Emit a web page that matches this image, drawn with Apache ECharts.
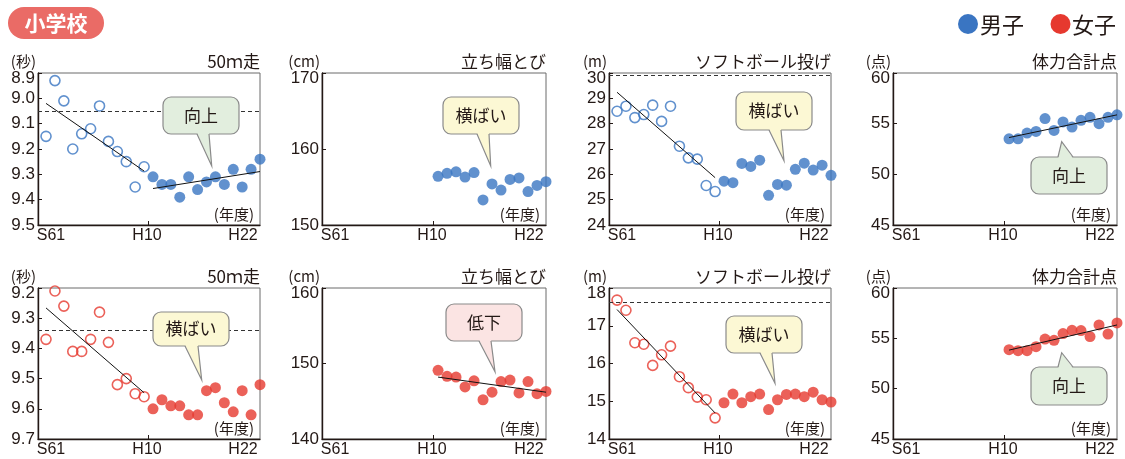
<!DOCTYPE html>
<html><head><meta charset="utf-8">
<script src="https://cdn.jsdelivr.net/npm/echarts@6/dist/echarts.min.js"></script>
<style>html,body{margin:0;padding:0;background:#fff}#c{width:1125px;height:459px}</style>
</head><body><div id="c"></div>
<script>
// ---------- data ----------
const years = ['S61','S62','S63','H1','H2','H3','H4','H5','H6','H7','H8','H9',
  'H10','H11','H12','H13','H14','H15','H16','H17','H18','H19','H20','H21','H22'];
const tickLabels = ['S61','H10','H22'];
const oldTestCount = 12; // S61..H9 open circles, H10..H22 filled

const boys50m   = [9.15,8.93,9.01,9.20,9.14,9.12,9.03,9.17,9.21,9.25,9.35,9.27,
                   9.31,9.34,9.34,9.39,9.31,9.36,9.33,9.31,9.34,9.28,9.35,9.28,9.24];
const boysJump  = [null,null,null,null,null,null,null,null,null,null,null,null,
                   156.4,156.8,157.0,156.3,156.9,153.3,155.4,154.6,156.0,156.2,154.4,155.2,155.7];
const boysBall  = [28.49,28.69,28.24,28.36,28.73,28.09,28.69,27.11,26.65,26.60,25.56,25.32,
                   25.73,25.67,26.43,26.31,26.56,25.17,25.60,25.57,26.20,26.44,26.17,26.36,25.96];
const boysTotal = [null,null,null,null,null,null,null,null,null,null,null,null,
                   53.5,53.5,54.07,54.23,55.5,54.33,55.17,54.67,55.33,55.63,55.0,55.63,55.87];
const girls50m  = [9.37,9.21,9.26,9.41,9.41,9.37,9.28,9.38,9.52,9.50,9.55,9.56,
                   9.60,9.57,9.59,9.59,9.62,9.62,9.54,9.53,9.58,9.61,9.54,9.62,9.52];
const girlsJump = [null,null,null,null,null,null,null,null,null,null,null,null,
                   149.1,148.3,148.2,146.9,147.7,145.2,146.2,147.6,147.8,146.1,147.6,146.0,146.3];
const girlsBall = [17.68,17.41,16.55,16.51,15.95,16.23,16.46,15.65,15.36,15.11,15.04,14.56,
                   14.96,15.19,14.96,15.12,15.19,14.78,15.04,15.18,15.19,15.12,15.24,15.04,14.98];
const girlsTotal= [null,null,null,null,null,null,null,null,null,null,null,null,
                   53.87,53.77,53.77,54.17,54.93,54.8,55.47,55.8,55.77,55.17,56.33,55.43,56.53];

// trend lines: [startIndex, startValue, endIndex, endValue]
const boys50mTrend   = [[0,9.02,11,9.287],[12,9.356,24,9.289]];
const boysJumpTrend  = [];
const boysBallTrend  = [[0,29.24,11,25.87]];
const boysTotalTrend = [[12,53.63,24,55.87]];
const girls50mTrend  = [[0,9.266,11,9.547]];
const girlsJumpTrend = [[12,148.2,24,146.2]];
const girlsBallTrend = [[0,17.43,11,14.69]];
const girlsTotalTrend= [[12,53.83,24,56.33]];

// reference (dashed) levels
const boys50mRef = 9.05, boysBallRef = 29.9, girls50mRef = 9.34, girlsBallRef = 17.61;

const titles = ['50ｍ走','立ち幅とび','ソフトボール投げ','体力合計点'];
const units  = ['(秒)','(cm)','(m)','(点)'];
const trendWords = ['向上','横ばい','横ばい','向上','横ばい','低下','横ばい','向上'];

// ---------- layout / style ----------
const BLUE = '#3a75c2', RED = '#e6392f', INK = '#231815';
const NUMF = '"Liberation Sans", Arial, "Noto Sans CJK JP", sans-serif';
const JPF = '"Noto Sans CJK JP", "Liberation Sans", sans-serif';
const colL = [38, 322, 609, 893], colW = [222, 224, 222, 224];
const rowT = [73, 288], rowH = [152, 151];

const panels = [
  {data: boys50m, trend: boys50mTrend, ref: boys50mRef, min: 8.9, max: 9.5, iv: 0.1, inv: true, dec: 1, color: BLUE},
  {data: boysJump, trend: boysJumpTrend, ref: null, min: 150, max: 170, iv: 10, inv: false, dec: 0, color: BLUE},
  {data: boysBall, trend: boysBallTrend, ref: boysBallRef, min: 24, max: 30, iv: 1, inv: false, dec: 0, color: BLUE},
  {data: boysTotal, trend: boysTotalTrend, ref: null, min: 45, max: 60, iv: 5, inv: false, dec: 0, color: BLUE},
  {data: girls50m, trend: girls50mTrend, ref: girls50mRef, min: 9.2, max: 9.7, iv: 0.1, inv: true, dec: 1, color: RED},
  {data: girlsJump, trend: girlsJumpTrend, ref: null, min: 140, max: 160, iv: 10, inv: false, dec: 0, color: RED},
  {data: girlsBall, trend: girlsBallTrend, ref: girlsBallRef, min: 14, max: 18, iv: 1, inv: false, dec: 0, color: RED},
  {data: girlsTotal, trend: girlsTotalTrend, ref: null, min: 45, max: 60, iv: 5, inv: false, dec: 0, color: RED}
];

// callout annotations (pixel layout)
const GREEN_F = '#e2eede', YEL_F = '#fcf8d4', PINK_F = '#fbe4e3';
const callouts = [
  {box:[163, 97, 76, 37], tip:[211.7,166], base:[197,209], fill: GREEN_F},
  {box:[443, 97, 76, 37], tip:[490.7,166], base:[477,489], fill: YEL_F},
  {box:[736, 92, 76, 38], tip:[784,160.7], base:[769,781], fill: YEL_F},
  {box:[1031,157, 76, 37], tip:[1061.7,141.7], base:[1058,1073], fill: GREEN_F},
  {box:[153, 312, 76, 34], tip:[201.7,380], base:[185,198], fill: YEL_F},
  {box:[446, 304, 76, 37], tip:[495,371.7], base:[479,491], fill: PINK_F},
  {box:[726, 316, 76, 37], tip:[775,383.3], base:[760,772], fill: YEL_F},
  {box:[1031,367, 76, 38], tip:[1061.7,352.7], base:[1058,1073], fill: GREEN_F}
];

const grids = [], xAxes = [], yAxes = [], series = [], graphics = [];

panels.forEach((p, i) => {
  const col = i % 4, row = Math.floor(i / 4);
  const L = colL[col], W = colW[col], T = rowT[row], H = rowH[row];
  grids.push({left: L, top: T, width: W, height: H, show: true, borderColor: '#6a6a6a', borderWidth: 1, containLabel: false});
  xAxes.push({
    gridIndex: i, type: 'value', min: -0.9, max: years.length - 1,
    axisLine: {show: true, onZero: false, lineStyle: {color: INK, width: 1.4}},
    axisTick: {show: true, inside: true, length: 4, customValues: [11.5], lineStyle: {color: INK}},
    splitLine: {show: false},
    axisLabel: {
      customValues: [0, 12, 24], margin: 3, color: INK, fontSize: 16, fontFamily: NUMF,
      formatter: v => {
        const lab = years[Math.round(v)];
        const k = tickLabels.indexOf(lab);
        return '{' + ['a','b','c'][k] + '|' + lab + '}';
      },
      rich: {
        a: {padding: [0,0,0,10], fontSize: 16, fontFamily: NUMF, color: INK},
        b: {padding: [0,12,0,0], fontSize: 16, fontFamily: NUMF, color: INK},
        c: {padding: [0,34,0,0], fontSize: 16, fontFamily: NUMF, color: INK}
      }
    }
  });
  const topVal = p.inv ? p.min : p.max;
  yAxes.push({
    gridIndex: i, type: 'value', min: p.min, max: p.max, interval: p.iv, inverse: p.inv,
    axisLine: {show: true, onZero: false, lineStyle: {color: INK, width: 1.4}},
    axisTick: {show: true, inside: true, length: 4, lineStyle: {color: INK}},
    splitLine: {show: false},
    axisLabel: {
      margin: 3, color: INK, fontSize: 17, fontFamily: NUMF,
      formatter: v => {
        const s = v.toFixed(p.dec);
        return Math.abs(v - topVal) < 1e-6 ? '{t|' + s + '}' : s;
      },
      rich: {t: {padding: [10,0,0,0], fontSize: 17, fontFamily: NUMF, color: INK}}
    }
  });
  const open = [], filled = [];
  p.data.forEach((v, k) => {
    if (v == null) return;
    (k < oldTestCount ? open : filled).push([k, v]);
  });
  const sc = {
    type: 'scatter', xAxisIndex: i, yAxisIndex: i, data: filled, symbolSize: 11,
    itemStyle: {color: p.color}, z: 2, silent: true
  };
  if (p.ref != null) {
    sc.markLine = {
      silent: true, symbol: ['none','none'], label: {show: false},
      lineStyle: {type: [4,3], color: '#333', width: 1},
      data: [{yAxis: p.ref}]
    };
  }
  series.push(sc);
  if (open.length) series.push({
    type: 'scatter', xAxisIndex: i, yAxisIndex: i, data: open, symbolSize: 10,
    itemStyle: {color: 'rgba(255,255,255,0)', borderColor: p.color, borderWidth: 1.6}, z: 2, silent: true
  });
  p.trend.forEach(t => series.push({
    type: 'line', xAxisIndex: i, yAxisIndex: i, data: [[t[0], t[1]], [t[2], t[3]]],
    symbol: 'none', lineStyle: {color: '#111', width: 1}, z: 3, silent: true
  }));

  // texts around panel
  graphics.push({type: 'text', x: L - 2, y: T - 12, style: {text: units[col], align: 'right', verticalAlign: 'middle', fontSize: 15, fontFamily: JPF, fill: INK}});
  graphics.push({type: 'text', x: L + W, y: T - 11, style: {text: titles[col], align: 'right', verticalAlign: 'middle', fontSize: 17, fontFamily: JPF, fill: INK}});
  graphics.push({type: 'text', x: L + W - 6, y: T + H - 11, z: 10, style: {text: '(年度)', align: 'right', verticalAlign: 'middle', fontSize: 15, fontFamily: JPF, fill: INK}});

  // callout
  const c = callouts[i];
  const [bx, by, bw, bh] = c.box;
  const down = c.tip[1] > by + bh;
  const edge = down ? by + bh : by;
  const inset = down ? -1.5 : 1.5;
  graphics.push({type: 'rect', z: 20, shape: {x: bx, y: by, width: bw, height: bh, r: 8}, style: {fill: c.fill, stroke: '#8a8a8a', lineWidth: 1.2}});
  graphics.push({type: 'polygon', z: 21, shape: {points: [[c.base[0], edge + inset], c.tip, [c.base[1], edge + inset]]}, style: {fill: c.fill}});
  graphics.push({type: 'polyline', z: 22, shape: {points: [[c.base[0], edge], c.tip, [c.base[1], edge]]}, style: {stroke: '#8a8a8a', lineWidth: 1.2, fill: null}});
  graphics.push({type: 'text', z: 23, x: bx + bw / 2, y: by + bh / 2, style: {text: trendWords[i], align: 'center', verticalAlign: 'middle', fontSize: 17, fontFamily: JPF, fill: INK}});
});

// header & legend
graphics.push({type: 'rect', shape: {x: 8, y: 7, width: 96, height: 32, r: 16}, style: {fill: '#ea6b66'}});
graphics.push({type: 'text', x: 56, y: 23.5, style: {text: '小学校', align: 'center', verticalAlign: 'middle', fontSize: 21, fontWeight: 'bold', fontFamily: JPF, fill: '#fff'}});
graphics.push({type: 'circle', shape: {cx: 968, cy: 24, r: 10}, style: {fill: BLUE}});
graphics.push({type: 'text', x: 980, y: 25, style: {text: '男子', verticalAlign: 'middle', fontSize: 22, fontFamily: JPF, fill: INK}});
graphics.push({type: 'circle', shape: {cx: 1060.5, cy: 24, r: 10}, style: {fill: RED}});
graphics.push({type: 'text', x: 1072, y: 25, style: {text: '女子', verticalAlign: 'middle', fontSize: 22, fontFamily: JPF, fill: INK}});

const chart = echarts.init(document.getElementById('c'), null, {renderer: 'canvas'});
chart.setOption({
  animation: false, backgroundColor: '#fff',
  grid: grids, xAxis: xAxes, yAxis: yAxes, series: series, graphic: graphics
});
</script></body></html>
